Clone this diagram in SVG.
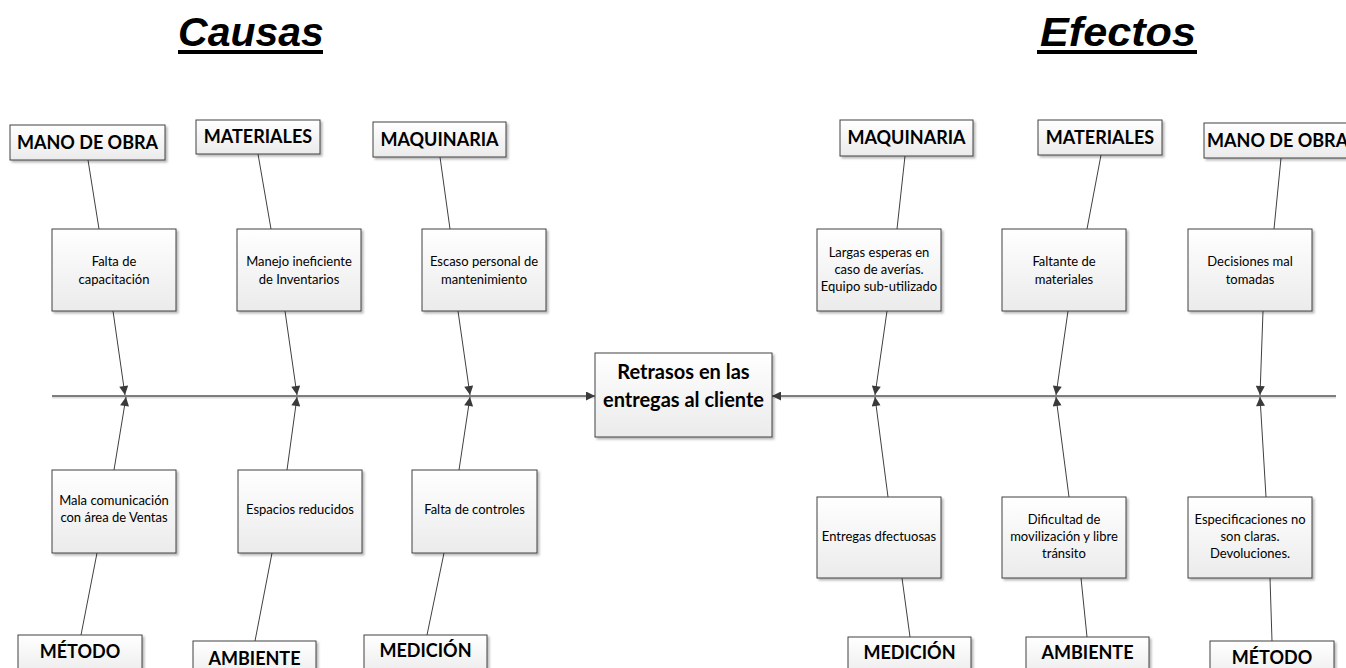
<svg xmlns="http://www.w3.org/2000/svg" width="1346" height="668" viewBox="0 0 1346 668">
<defs>
<linearGradient id="g" x1="0" y1="0" x2="0" y2="1"><stop offset="0" stop-color="#ffffff"/><stop offset="1" stop-color="#ebebeb"/></linearGradient>
<filter id="sh" x="-10%" y="-10%" width="130%" height="130%"><feDropShadow dx="2" dy="2" stdDeviation="0.8" flood-color="#000" flood-opacity="0.28"/></filter>
<marker id="ah" viewBox="0 0 10 10" refX="10" refY="5" markerWidth="10" markerHeight="9" orient="auto" markerUnits="userSpaceOnUse"><path d="M0,0 L10,5 L0,10 z" fill="#3a3a3a"/></marker>
<style>
.box{fill:url(#g);stroke:#404040;stroke-width:1;filter:url(#sh)}
.lbl{font-family:Lato,"Liberation Sans",sans-serif;font-weight:bold;font-size:18px;fill:#000;text-anchor:middle}
.txt{font-family:Lato,"Liberation Sans",sans-serif;font-size:13px;fill:#000;text-anchor:middle}
.ctr{font-family:Lato,"Liberation Sans",sans-serif;font-weight:bold;font-size:20px;fill:#000;text-anchor:middle}
.ttl{font-family:"Liberation Sans",Arial,sans-serif;font-weight:bold;font-style:italic;font-size:41px;fill:#000;text-anchor:middle}
.ln{stroke:#404040;stroke-width:1;fill:none}
.ar{stroke:#404040;stroke-width:1;fill:none;marker-end:url(#ah)}
</style>
</defs>
<rect width="1346" height="668" fill="#fff"/>

<g id="titles">
<text class="ttl" x="251" y="46">Causas</text>
<rect x="178" y="50" width="145" height="4" fill="#000"/>
<text class="ttl" x="1118" y="46" textLength="156" lengthAdjust="spacingAndGlyphs">Efectos</text>
<rect x="1037" y="50" width="160" height="4" fill="#000"/>
</g>

<g id="connectors">
<line x1="52" y1="397.5" x2="595" y2="397.5" stroke="#dddddd" stroke-width="2"/>
<line x1="772" y1="397.5" x2="1336" y2="397.5" stroke="#dddddd" stroke-width="2"/>
<line class="ar" x1="52" y1="396" x2="595" y2="396" style="stroke:#555;stroke-width:1.4"/>
<line class="ar" x1="1336" y1="396" x2="772" y2="396" style="stroke:#555;stroke-width:1.4"/>
<line class="ar" x1="113" y1="311" x2="125" y2="395"/>
<line class="ar" x1="114" y1="470" x2="126" y2="397"/>
<line class="ar" x1="285" y1="311" x2="297" y2="395"/>
<line class="ar" x1="287" y1="470" x2="297" y2="397"/>
<line class="ar" x1="458" y1="311" x2="470" y2="395"/>
<line class="ar" x1="459" y1="470" x2="470" y2="397"/>
<line class="ar" x1="887" y1="311" x2="875" y2="395"/>
<line class="ar" x1="888" y1="497" x2="875" y2="397"/>
<line class="ar" x1="1068" y1="311" x2="1056" y2="395"/>
<line class="ar" x1="1069" y1="497" x2="1056" y2="397"/>
<line class="ar" x1="1263" y1="311" x2="1260" y2="395"/>
<line class="ar" x1="1266" y1="497" x2="1260" y2="397"/>
<line class="ln" x1="88" y1="160" x2="99" y2="229"/>
<line class="ln" x1="258" y1="154" x2="271" y2="229"/>
<line class="ln" x1="440" y1="157" x2="450" y2="229"/>
<line class="ln" x1="97" y1="553" x2="81" y2="635"/>
<line class="ln" x1="272" y1="553" x2="255" y2="641"/>
<line class="ln" x1="444" y1="553" x2="427" y2="635"/>
<line class="ln" x1="905" y1="156" x2="897" y2="229"/>
<line class="ln" x1="1101" y1="155" x2="1087" y2="229"/>
<line class="ln" x1="1281" y1="158" x2="1274" y2="229"/>
<line class="ln" x1="902" y1="578" x2="910" y2="637"/>
<line class="ln" x1="1081" y1="578" x2="1087" y2="637"/>
<line class="ln" x1="1270" y1="578" x2="1272" y2="641"/>
</g>

<g id="center"><rect class="box" x="595" y="353" width="177" height="84"/>
<text class="ctr" x="683.5" y="379">Retrasos en las</text><text class="ctr" x="683.5" y="407">entregas al cliente</text></g>

<g id="l-mano"><rect class="box" x="10" y="125" width="155" height="35"/><text class="lbl" x="87.5" y="149">MANO DE OBRA</text></g>
<g id="l-materiales"><rect class="box" x="196" y="120" width="124" height="34"/><text class="lbl" x="258" y="143">MATERIALES</text></g>
<g id="l-maquinaria"><rect class="box" x="373" y="122" width="133" height="35"/><text class="lbl" x="439.5" y="146">MAQUINARIA</text></g>
<g id="l-metodo"><rect class="box" x="18" y="635" width="124" height="40"/><text class="lbl" x="80" y="658">MÉTODO</text></g>
<g id="l-ambiente"><rect class="box" x="193" y="641" width="123" height="40"/><text class="lbl" x="254.5" y="665">AMBIENTE</text></g>
<g id="l-medicion"><rect class="box" x="364" y="635" width="123" height="40"/><text class="lbl" x="425.5" y="657">MEDICIÓN</text></g>

<g id="r-maquinaria"><rect class="box" x="840" y="120" width="133" height="36"/><text class="lbl" x="906.5" y="144">MAQUINARIA</text></g>
<g id="r-materiales"><rect class="box" x="1038" y="120" width="124" height="35"/><text class="lbl" x="1100" y="144">MATERIALES</text></g>
<g id="r-mano"><rect class="box" x="1204" y="123" width="160" height="35"/><text class="lbl" x="1207" y="147" style="text-anchor:start">MANO DE OBRA</text></g>
<g id="r-medicion"><rect class="box" x="848" y="637" width="123" height="40"/><text class="lbl" x="909.5" y="659">MEDICIÓN</text></g>
<g id="r-ambiente"><rect class="box" x="1026" y="637" width="123" height="40"/><text class="lbl" x="1087.5" y="659">AMBIENTE</text></g>
<g id="r-metodo"><rect class="box" x="1210" y="641" width="124" height="40"/><text class="lbl" x="1272" y="664">MÉTODO</text></g>

<g id="c-falta-cap"><rect class="box" x="52" y="229" width="124" height="82"/><text class="txt" x="114" y="266">Falta de</text><text class="txt" x="114" y="284">capacitación</text></g>
<g id="c-manejo"><rect class="box" x="237" y="229" width="124" height="82"/><text class="txt" x="299" y="266">Manejo ineficiente</text><text class="txt" x="299" y="284">de Inventarios</text></g>
<g id="c-escaso"><rect class="box" x="422" y="229" width="124" height="82"/><text class="txt" x="484" y="266">Escaso personal de</text><text class="txt" x="484" y="284">mantenimiento</text></g>
<g id="c-mala"><rect class="box" x="52" y="470" width="124" height="83"/><text class="txt" x="114" y="505">Mala comunicación</text><text class="txt" x="114" y="522">con área de Ventas</text></g>
<g id="c-espacios"><rect class="box" x="238" y="470" width="124" height="83"/><text class="txt" x="300" y="514">Espacios reducidos</text></g>
<g id="c-controles"><rect class="box" x="412" y="470" width="125" height="83"/><text class="txt" x="474.5" y="514">Falta de controles</text></g>

<g id="e-largas"><rect class="box" x="817" y="229" width="124" height="82"/><text class="txt" x="879" y="257">Largas esperas en</text><text class="txt" x="879" y="274">caso de averías.</text><text class="txt" x="879" y="291">Equipo sub-utilizado</text></g>
<g id="e-faltante"><rect class="box" x="1002" y="229" width="124" height="82"/><text class="txt" x="1064" y="266">Faltante de</text><text class="txt" x="1064" y="284">materiales</text></g>
<g id="e-decisiones"><rect class="box" x="1188" y="229" width="124" height="82"/><text class="txt" x="1250" y="266">Decisiones mal</text><text class="txt" x="1250" y="284">tomadas</text></g>
<g id="e-entregas"><rect class="box" x="817" y="497" width="124" height="81"/><text class="txt" x="879" y="541">Entregas dfectuosas</text></g>
<g id="e-dificultad"><rect class="box" x="1002" y="497" width="124" height="81"/><text class="txt" x="1064" y="524">Dificultad de</text><text class="txt" x="1064" y="541">movilización y libre</text><text class="txt" x="1064" y="558">tránsito</text></g>
<g id="e-especificaciones"><rect class="box" x="1188" y="497" width="124" height="81"/><text class="txt" x="1250" y="524">Especificaciones no</text><text class="txt" x="1250" y="541">son claras.</text><text class="txt" x="1250" y="558">Devoluciones.</text></g>
</svg>
